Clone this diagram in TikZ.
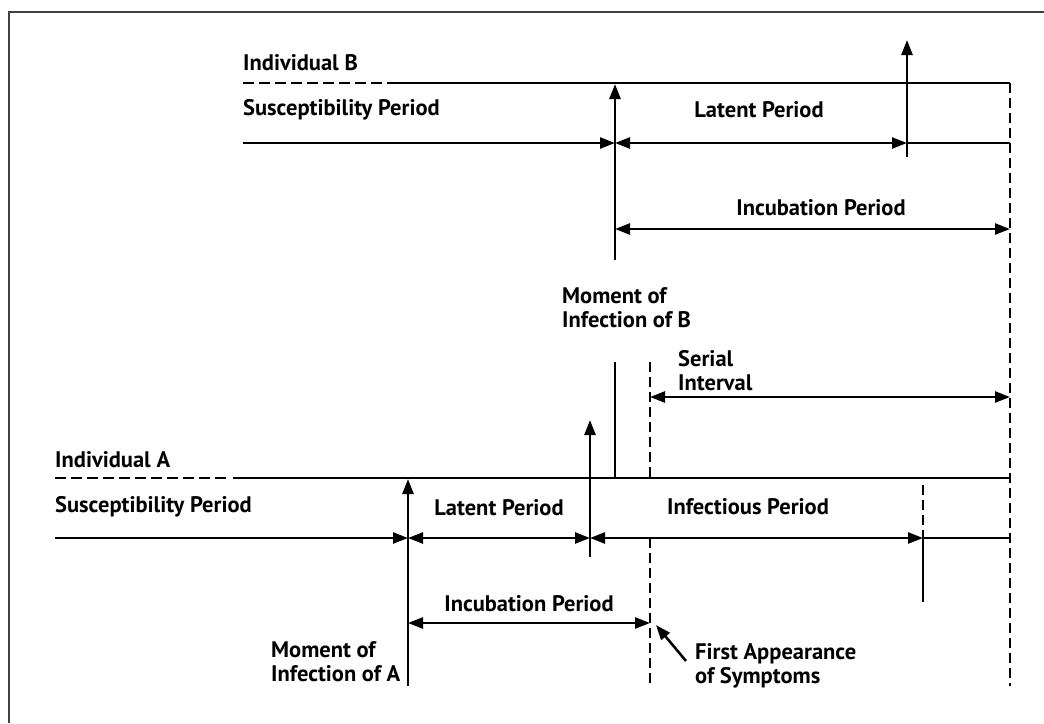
\documentclass[tikz,border=0pt]{standalone}
\usepackage{fontspec}
\setmainfont{PT Sans}
\usetikzlibrary{arrows.meta}
\begin{document}
\begin{tikzpicture}[x=1pt,y=-1pt,
  ln/.style={line width=2.5pt},
  tip/.style={-{Triangle[length=15pt,width=11pt]}},
  dtip/.style={{Triangle[length=15pt,width=11pt]}-{Triangle[length=15pt,width=11pt]}},
  dsh/.style={line width=2.5pt,dash pattern=on 10pt off 5pt},
  hdsh/.style={line width=2.5pt,dash pattern=on 11pt off 5pt},
  lbl/.style={inner sep=0pt,font=\fontsize{22.5}{24}\selectfont\bfseries},
  lbll/.style={lbl,anchor=west},
  blk/.style={lbl,anchor=north west,align=left,font=\fontsize{22.5}{24.5}\selectfont\bfseries}]
\useasboundingbox (0,0) rectangle (1044,723);
% frame
\draw[line width=1.6pt,black!75] (9,723) -- (9,12) -- (1044,12);

% ---------- coordinates ----------
% Individual B
\coordinate (b0) at (243,83);
\coordinate (bd) at (398,83);
\coordinate (bR) at (1010,83);
\coordinate (bs0) at (243,143);
\coordinate (bI) at (615,143);
\coordinate (bIbot) at (615,260);
\coordinate (bItop) at (615,84);
\coordinate (bL) at (907,143);
\coordinate (bLbot) at (907,157);
\coordinate (bLtop) at (907,40);
\coordinate (bE) at (1010,143);
\coordinate (bU0) at (615,229);
\coordinate (bU1) at (1010,229);
\coordinate (rBot) at (1010,686);
% serial interval
\coordinate (sv0) at (615,362);
\coordinate (sv1) at (615,478);
\coordinate (sd0) at (650,362);
\coordinate (sd1) at (650,478);
\coordinate (sd2) at (650,538);
\coordinate (sd3) at (650,686);
\coordinate (si0) at (650,397);
\coordinate (si1) at (1010,397);
% Individual A
\coordinate (a0) at (55,478);
\coordinate (ad) at (226,478);
\coordinate (ad2) at (233,478);
\coordinate (aR) at (1010,478);
\coordinate (as0) at (55,538);
\coordinate (aI) at (408,538);
\coordinate (aItop) at (408,479);
\coordinate (aIbot) at (408,686);
\coordinate (aL) at (590,538);
\coordinate (aLtop) at (590,420);
\coordinate (aLbot) at (590,557);
\coordinate (aE) at (923,538);
\coordinate (aEtop) at (923,485);
\coordinate (aEbot) at (923,602);
\coordinate (aEnd) at (1010,538);
\coordinate (aU0) at (408,623);
\coordinate (aU1) at (650,623);
\coordinate (fa0) at (686,661);
\coordinate (fa1) at (656,625);

% ---------- labels ----------
\node[lbll] (tIB) at (243,63) {Individual B};
\node[lbll] (tSB) at (243,110) {Susceptibility Period};
\node[lbl] (tLB) at (759,110) {Latent Period};
\node[lbl] (tUB) at (821,208) {Incubation Period};
\node[blk] (tMB) at (562,287) {Moment of\\Infection of B};
\node[blk] (tSI) at (678,350) {Serial\\Interval};
\node[lbll] (tIA) at (55,460) {Individual A};
\node[lbll] (tSA) at (55,507) {Susceptibility Period};
\node[lbl] (tLA) at (499,508) {Latent Period};
\node[lbl] (tFA) at (748,507) {Infectious Period};
\node[lbl] (tUA) at (529,604) {Incubation Period};
\node[blk] (tMA) at (271,641) {Moment of\\Infection of A};
\node[blk] (tFS) at (695,643) {First Appearance\\of Symptoms};

% ---------- Individual B ----------
\draw[hdsh] (b0) -- (bd);
\draw[ln] (bd) -- (bR);
\draw[ln,tip] (bs0) -- (bI);
\draw[ln,tip] (bIbot) -- (bItop);
\draw[ln,dtip] (bI) -- (bL);
\draw[ln,tip] (bLbot) -- (bLtop);
\draw[ln] (bL) -- (bE);
\draw[ln,dtip] (bU0) -- (bU1);
\draw[dsh] (bR) -- (rBot);

% ---------- serial interval ----------
\draw[ln] (sv0) -- (sv1);
\draw[dsh] (sd0) -- (sd1);
\draw[dsh] (sd2) -- (sd3);
\draw[ln,dtip] (si0) -- (si1);

% ---------- Individual A ----------
\draw[hdsh] (a0) -- (ad);
\draw[ln] (ad2) -- (aR);
\draw[ln,tip] (as0) -- (aI);
\draw[ln,tip] (aIbot) -- (aItop);
\draw[ln,dtip] (aI) -- (aL);
\draw[ln,tip] (aLbot) -- (aLtop);
\draw[ln,dtip] (aL) -- (aE);
\draw[dsh] (aEtop) -- (aE);
\draw[ln] (aE) -- (aEbot);
\draw[ln] (aE) -- (aEnd);
\draw[ln,dtip] (aU0) -- (aU1);
\draw[ln,tip] (fa0) -- (fa1);
\end{tikzpicture}
\end{document}
